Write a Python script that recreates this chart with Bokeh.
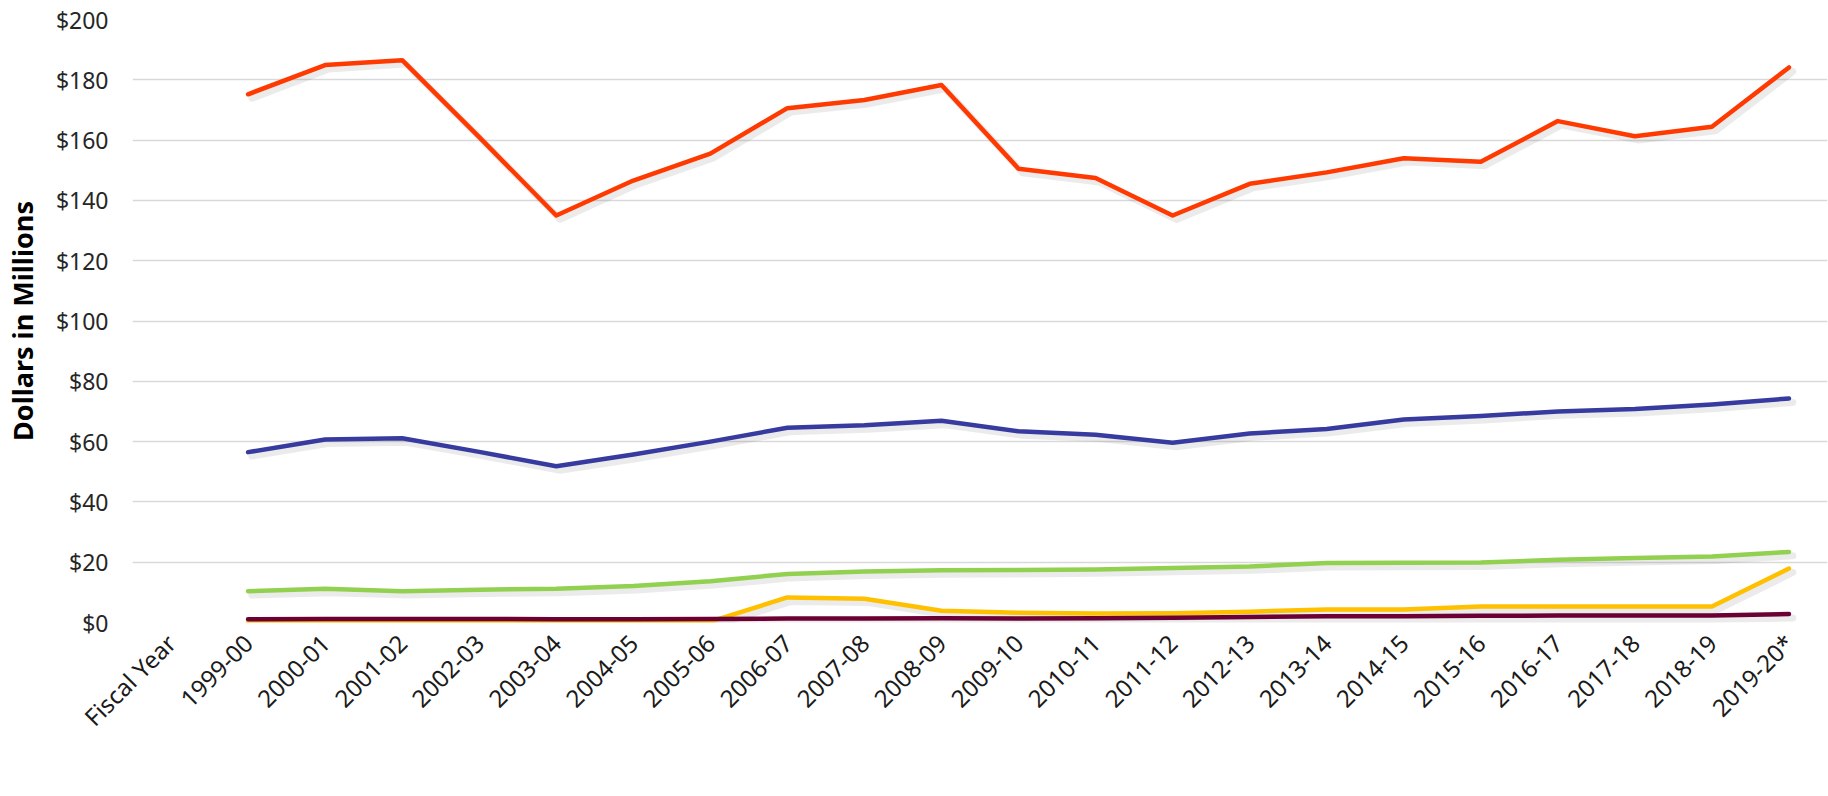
from bokeh.plotting import figure
from bokeh.models import Legend, LegendItem, NumeralTickFormatter, FixedTicker, Range1d
from bokeh.embed import file_html
from bokeh.resources import INLINE
import math

x_labels = ["Fiscal Year", "1999-00", "2000-01", "2001-02", "2002-03", "2003-04", "2004-05",
            "2005-06", "2006-07", "2007-08", "2008-09", "2009-10", "2010-11", "2011-12",
            "2012-13", "2013-14", "2014-15", "2015-16", "2016-17", "2017-18", "2018-19", "2019-20*"]
years = x_labels[1:]

university = [175.2, 184.9, 186.5, 161.0, 135.0, 146.6, 155.5, 170.6, 173.3, 178.3, 150.5,
              147.4, 135.0, 145.5, 149.3, 154.0, 152.8, 166.3, 161.3, 164.4, 184.1]
ce_aes = [56.5, 60.7, 61.1, 56.6, 51.8, 55.7, 60.0, 64.6, 65.4, 66.9, 63.4,
          62.3, 59.6, 62.7, 64.2, 67.3, 68.5, 70.0, 70.8, 72.3, 74.3]
fin_assist = [0.0, 0.1, 0.1, 0.1, 0.1, 0.2, 0.3, 8.3, 7.9, 3.9, 3.2,
              3.0, 3.1, 3.6, 4.3, 4.3, 5.3, 5.3, 5.3, 5.3, 17.9]
student_aid = [10.4, 11.2, 10.4, 10.9, 11.2, 12.1, 13.7, 16.1, 16.9, 17.3, 17.4,
               17.6, 18.1, 18.6, 19.7, 19.8, 19.9, 20.8, 21.4, 21.9, 23.4]
military = [1.1, 1.2, 1.2, 1.2, 1.1, 1.1, 1.2, 1.3, 1.3, 1.4, 1.3,
            1.4, 1.6, 1.8, 2.1, 2.1, 2.2, 2.3, 2.3, 2.3, 2.8]

series = [
    ("University Division", university, "#FF3A00"),
    ("CE/AES Division", ce_aes, "#373A9E"),
    ("Financial Assistance for E&G Programs", fin_assist, "#FFC000"),
    ("Student Financial Aid", student_aid, "#92D050"),
    ("Unique Military Activities", military, "#6A0033"),
]

FONT = "Noto Sans"

# category index positions (category axis drawn on a numeric scale)
cat_pos = list(range(len(x_labels)))
year_pos = cat_pos[1:]

p = figure(frame_width=1695, frame_height=603,
           x_range=Range1d(-0.5, len(x_labels) - 0.5),
           y_range=(0, 200), output_backend="svg", toolbar_location=None,
           min_border_left=127, min_border_right=6, min_border_top=19, min_border_bottom=174)
p.outline_line_color = None
p.background_fill_color = "white"
p.border_fill_color = "white"

# grid
p.xgrid.grid_line_color = None
p.ygrid.grid_line_color = "#D9D9D9"
p.ygrid.grid_line_width = 1.5
p.yaxis.ticker = FixedTicker(ticks=list(range(0, 201, 20)))

# y axis
p.yaxis.formatter = NumeralTickFormatter(format="$0")
p.yaxis.axis_line_color = None
p.yaxis.major_tick_line_color = None
p.yaxis.minor_tick_line_color = None
p.yaxis.major_label_text_font = FONT
p.yaxis.major_label_text_font_size = "23px"
p.yaxis.major_label_text_color = "#262626"
p.yaxis.major_label_standoff = 18
p.yaxis.axis_label = "Dollars in Millions"
p.yaxis.axis_label_text_font = FONT
p.yaxis.axis_label_text_font_style = "bold"
p.yaxis.axis_label_text_font_size = "27px"
p.yaxis.axis_label_text_color = "#000000"
p.yaxis.axis_label_standoff = 12

# x axis
p.xaxis.ticker = FixedTicker(ticks=cat_pos, minor_ticks=[])
p.xaxis.major_label_overrides = {i: lab for i, lab in zip(cat_pos, x_labels)}
p.xaxis.axis_line_color = None
p.xaxis.major_tick_line_color = None
p.xaxis.minor_tick_line_color = None
p.xaxis.major_label_orientation = math.pi / 4
p.xaxis.major_label_text_font = FONT
p.xaxis.major_label_text_font_size = "24px"
p.xaxis.major_label_text_color = "#1a1a1a"
p.xaxis.major_label_standoff = 10

for name, vals, color in series:
    p.line(x=[x + 0.05 for x in year_pos], y=[v - 1.3 for v in vals],
           line_color="#000000", line_alpha=0.08, line_width=7, line_join="round", line_cap="round")

items = []
for name, vals, color in series:
    r = p.line(x=year_pos, y=vals, line_color=color, line_width=4.5, line_join="round", line_cap="round")
    items.append(LegendItem(label=name, renderers=[r]))

legend = Legend(items=items, orientation="horizontal", location="center",
                label_text_font=FONT, label_text_font_size="25px", label_text_color="#000000",
                glyph_width=44, glyph_height=20, label_standoff=3, spacing=13,
                padding=0, margin=4, border_line_color=None, background_fill_alpha=0)
p.add_layout(legend, "below")

open("out.html", "w").write(file_html(p, INLINE))
